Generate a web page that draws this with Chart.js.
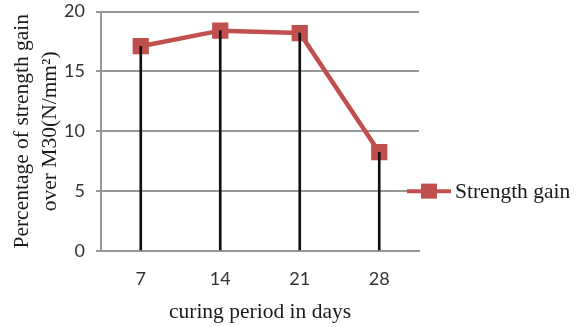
<!DOCTYPE html>
<html>
<head>
<meta charset="utf-8">
<style>
  html, body { margin: 0; padding: 0; background: #ffffff; }
  #wrap { width: 577px; height: 327px; position: relative; }
</style>
<script src="https://cdn.jsdelivr.net/npm/chart.js@4/dist/chart.umd.min.js"></script>
</head>
<body>
<div id="wrap"><canvas id="chart" width="577" height="327"></canvas></div>
<script>
// Curing period (days) on the category axis
const categories = ['7', '14', '21', '28'];
// Percentage of strength gain over M30 for each curing period
const strengthGain = [17.1, 18.4, 18.2, 8.25];
// Value-axis ticks
const yTicks = [0, 5, 10, 15, 20];

const seriesName = 'Strength gain';
const red = '#c0504d';
const gridGray = '#969696';
const serif = '"Liberation Serif", "Times New Roman", serif';
const sans = 'Lato, "Open Sans", sans-serif';

// Legend drawn beside the plot: line with a square marker, then the series name
const sideLegend = {
  id: 'sideLegend',
  afterDraw(chart) {
    const { ctx, chartArea } = chart;
    const y = chartArea.top + (chartArea.bottom - chartArea.top) * 0.75;
    const x0 = chartArea.right - 12;
    const x1 = x0 + 44;
    const mx = (x0 + x1) / 2;
    ctx.save();
    ctx.strokeStyle = red;
    ctx.lineWidth = 4;
    ctx.beginPath();
    ctx.moveTo(x0, y);
    ctx.lineTo(x1, y);
    ctx.stroke();
    ctx.fillStyle = red;
    ctx.fillRect(mx - 8, y - 7.5, 16, 15);
    ctx.fillStyle = '#1a1a1a';
    ctx.font = '21.5px ' + serif;
    ctx.textBaseline = 'middle';
    ctx.textAlign = 'left';
    ctx.fillText(seriesName, x1 + 4, y + 1);
    ctx.restore();
  }
};

new Chart(document.getElementById('chart'), {
  type: 'line',
  data: {
    labels: categories,
    datasets: [
      {
        // drop lines from each point down to zero
        type: 'bar',
        label: 'drop',
        data: strengthGain,
        backgroundColor: '#111111',
        barThickness: 2,
        order: 0
      },
      {
        type: 'line',
        label: seriesName,
        data: strengthGain,
        borderColor: red,
        backgroundColor: red,
        borderWidth: 4.5,
        pointStyle: 'rect',
        pointRadius: 11.5,
        pointHoverRadius: 11.5,
        pointBorderWidth: 0,
        pointBackgroundColor: red,
        tension: 0,
        order: 1
      }
    ]
  },
  options: {
    responsive: false,
    animation: false,
    devicePixelRatio: 1,
    layout: { padding: { left: 0, top: 11, right: 158, bottom: 0 } },
    plugins: {
      legend: { display: false },
      tooltip: { enabled: false }
    },
    scales: {
      x: {
        type: 'category',
        offset: true,
        grid: { display: false, drawTicks: false },
        border: { display: true, color: gridGray, width: 2 },
        ticks: {
          color: '#333333',
          font: { family: sans, size: 18 },
          padding: 17
        },
        title: {
          display: true,
          text: 'curing period in days',
          color: '#1a1a1a',
          font: { family: serif, size: 21.5, lineHeight: 1.2 },
          padding: { top: 0, bottom: 2 }
        },
        afterFit(scale) {
          scale.height = 76;
          scale.paddingLeft = 0;
          scale.paddingRight = 0;
        }
      },
      y: {
        min: 0,
        max: 20,
        afterBuildTicks(scale) { scale.ticks = yTicks.map(v => ({ value: v })); },
        grid: { color: gridGray, lineWidth: 2, tickLength: 5, drawTicks: true },
        border: { display: true, color: gridGray, width: 2 },
        ticks: {
          color: '#333333',
          font: { family: sans, size: 18 },
          padding: 11
        },
        title: {
          display: true,
          text: ['Percentage of strength gain', 'over M30(N/mm\u00B2)'],
          color: '#1a1a1a',
          font: { family: serif, size: 21.5, lineHeight: 1.28 },
          padding: { top: 9, bottom: 0 }
        },
        afterFit(scale) {
          scale.width = 101;
          scale.paddingTop = 0;
          scale.paddingBottom = 0;
        }
      }
    }
  },
  plugins: [sideLegend]
});
</script>
</body>
</html>
